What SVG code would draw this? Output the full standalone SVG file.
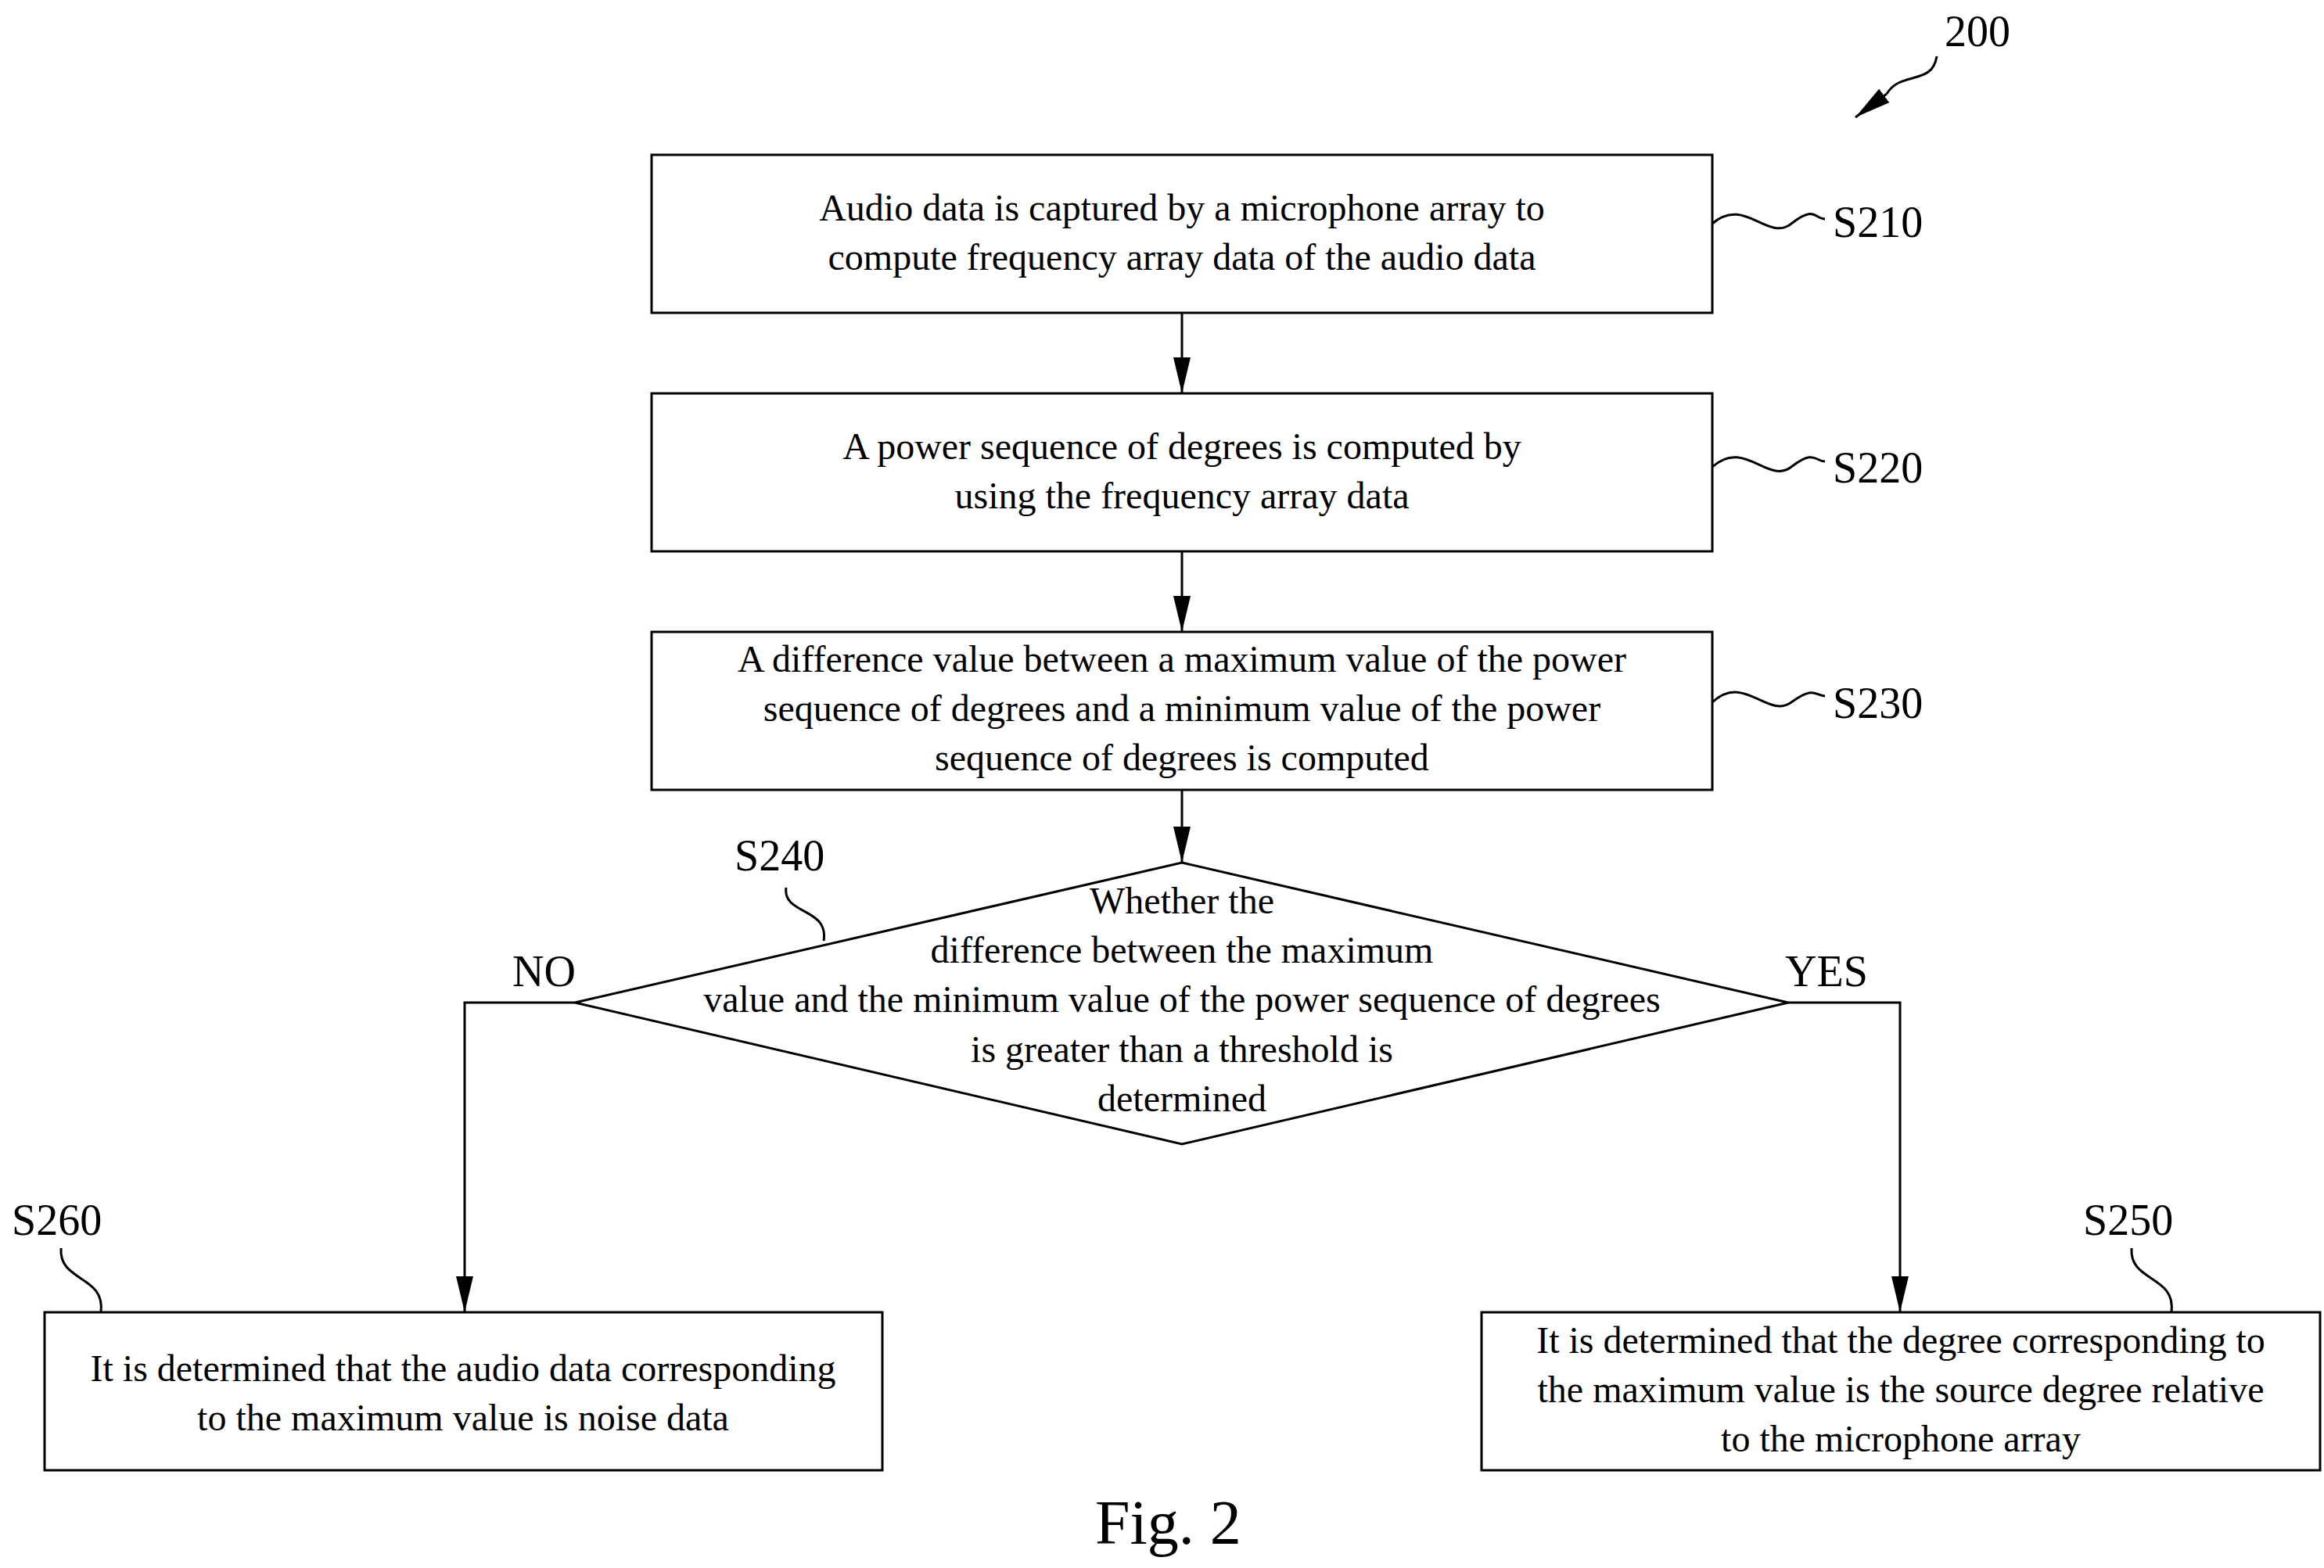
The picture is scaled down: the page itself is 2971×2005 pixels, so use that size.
<svg xmlns="http://www.w3.org/2000/svg" width="2971" height="2005" viewBox="0 0 2971 2005">
<style>
.b{fill:#fff;stroke:#000;stroke-width:3}
.t{font-family:"Liberation Serif",serif;font-size:48px;text-anchor:middle;fill:#000}
.l{font-family:"Liberation Serif",serif;font-size:56px;fill:#000}
.c{fill:none;stroke:#000;stroke-width:3}
</style>
<defs><marker id="a" markerWidth="22" markerHeight="46" refX="11" refY="46" orient="auto-start-reverse" markerUnits="userSpaceOnUse" viewBox="0 0 22 46"><path d="M0,0 L22,0 L11,46 Z" fill="#000" transform="rotate(-90 11 23) translate(0 0)"/></marker>
<marker id="h" markerWidth="46" markerHeight="22" refX="46" refY="11" orient="auto" markerUnits="userSpaceOnUse"><path d="M0,0 L46,11 L0,22 Z" fill="#000"/></marker></defs>
<rect width="2971" height="2005" fill="#fff"/>
<g id="connectors">
<line class="c" x1="1511" y1="400" x2="1511" y2="503" marker-end="url(#h)"/>
<line class="c" x1="1511" y1="705" x2="1511" y2="808" marker-end="url(#h)"/>
<line class="c" x1="1511" y1="1010" x2="1511" y2="1103" marker-end="url(#h)"/>
<polyline class="c" points="735,1282 594,1282 594,1678" marker-end="url(#h)"/>
<polyline class="c" points="2286,1282 2429,1282 2429,1678" marker-end="url(#h)"/>
<path class="c" d="M2189,286 C2230,250 2260,310 2290,286 S2320,280 2333,280"/>
<path class="c" d="M2189,597 C2230,560 2260,620 2290,597 S2320,590 2333,590"/>
<path class="c" d="M2189,898 C2230,860 2260,920 2290,898 S2320,890 2333,890"/>
<path class="c" d="M1053,1203 C1060,1160 1000,1170 1005,1135"/>
<path class="c" d="M129,1678 C135,1630 75,1640 78,1596"/>
<path class="c" d="M2776,1678 C2782,1630 2722,1640 2725,1596"/>
<path class="c" d="M2476,72 C2470,110 2430,90 2412,120" />
<line class="c" x1="2412" y1="120" x2="2372" y2="150" marker-end="url(#h)"/>
</g>
<g id="S210"><rect class="b" x="833" y="198" width="1356" height="202"/>
<text class="t" x="1511" y="282">Audio data is captured by a microphone array to</text>
<text class="t" x="1511" y="345">compute frequency array data of the audio data</text></g>
<g id="S220"><rect class="b" x="833" y="503" width="1356" height="202"/>
<text class="t" x="1511" y="587">A power sequence of degrees is computed by</text>
<text class="t" x="1511" y="650">using the frequency array data</text></g>
<g id="S230"><rect class="b" x="833" y="808" width="1356" height="202"/>
<text class="t" x="1511" y="859">A difference value between a maximum value of the power</text>
<text class="t" x="1511" y="922">sequence of degrees and a minimum value of the power</text>
<text class="t" x="1511" y="985">sequence of degrees is computed</text></g>
<g id="S240"><polygon class="b" points="1511,1103 2286,1282 1511,1463 735,1282"/>
<text class="t" x="1511" y="1168">Whether the</text>
<text class="t" x="1511" y="1231">difference between the maximum</text>
<text class="t" x="1511" y="1294">value and the minimum value of the power sequence of degrees</text>
<text class="t" x="1511" y="1358">is greater than a threshold is</text>
<text class="t" x="1511" y="1421">determined</text></g>
<g id="S260"><rect class="b" x="57" y="1678" width="1071" height="202"/>
<text class="t" x="592" y="1766">It is determined that the audio data corresponding</text>
<text class="t" x="592" y="1829">to the maximum value is noise data</text></g>
<g id="S250"><rect class="b" x="1894" y="1678" width="1072" height="202"/>
<text class="t" x="2430" y="1730">It is determined that the degree corresponding to</text>
<text class="t" x="2430" y="1793">the maximum value is the source degree relative</text>
<text class="t" x="2430" y="1856">to the microphone array</text></g>
<g id="labels">
<text class="l" x="2343" y="303">S210</text>
<text class="l" x="2343" y="617">S220</text>
<text class="l" x="2343" y="918">S230</text>
<text class="l" x="939" y="1113">S240</text>
<text class="l" x="655" y="1261">NO</text>
<text class="l" x="2282" y="1261">YES</text>
<text class="l" x="15" y="1579">S260</text>
<text class="l" x="2663" y="1579">S250</text>
<text class="l" x="2486" y="59">200</text>
<text class="l" x="1400" y="1974" style="font-size:80px">Fig. 2</text>
</g>
</svg>
